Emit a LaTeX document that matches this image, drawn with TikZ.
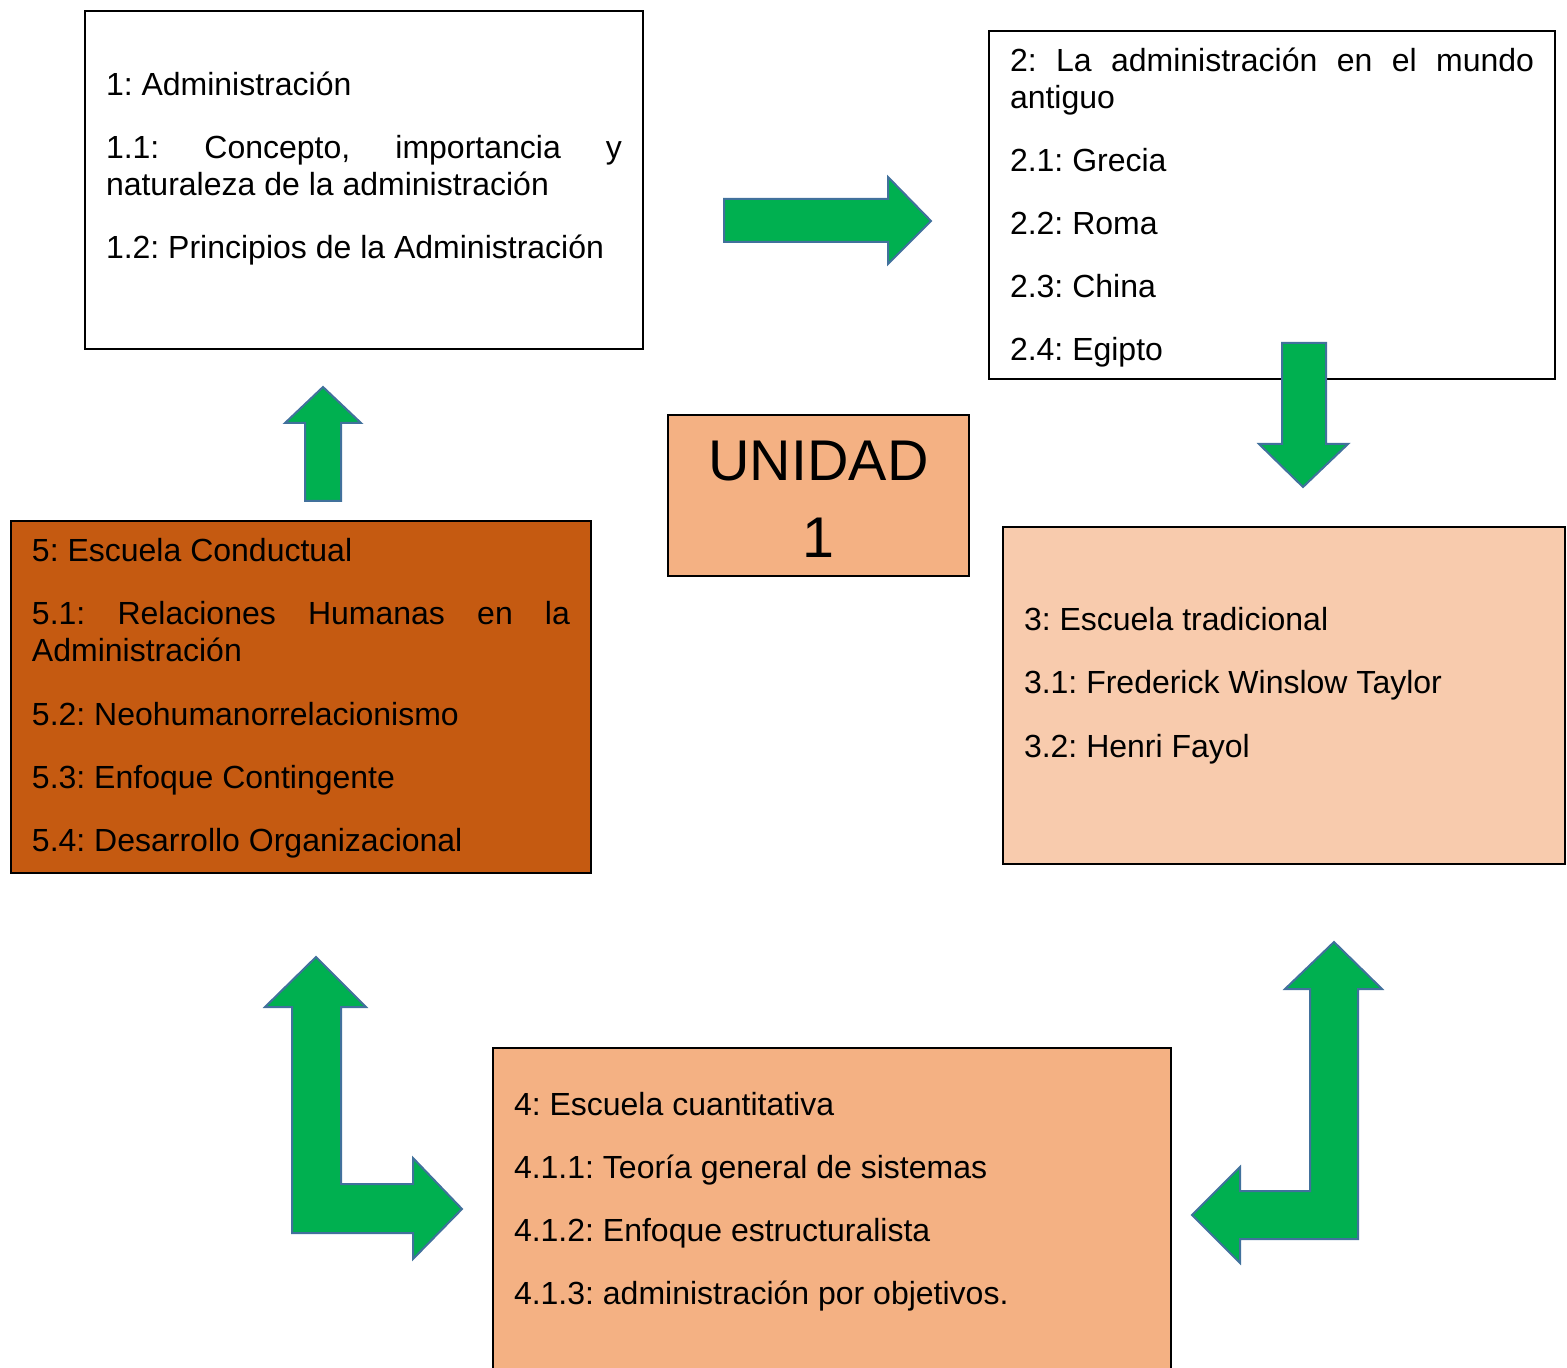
\documentclass[tikz,border=0pt]{standalone}
\usepackage{fontspec}
\setmainfont{Liberation Sans}
\definecolor{arrgreen}{HTML}{00B050}
\definecolor{arrline}{HTML}{41719C}
\definecolor{peach}{HTML}{F4B183}
\definecolor{lightpeach}{HTML}{F8CBAD}
\definecolor{rust}{HTML}{C55A11}
\hyphenpenalty=10000
\frenchspacing
\begin{document}
\begin{tikzpicture}[x=0.5pt, y=-0.5pt,
  box/.style={draw, line width=1pt, fill=white, anchor=north west, outer sep=0pt,
    inner xsep=10.5pt, inner ysep=0pt, align=justify, text width=#1,
    execute at begin node={\fontsize{16pt}{18.5pt}\selectfont\setlength{\parskip}{13pt}}},
  box/.default=258pt,
  unit/.style={box=129.5pt, align=center, fill=peach,
    execute at begin node={\fontsize{28.7pt}{38.5pt}\selectfont\setlength{\parskip}{0pt}}},
  blk/.style={fill=arrgreen, draw=arrline, line width=1pt, line join=miter}]
\useasboundingbox (0,0) rectangle (1567,1368);
% --- boxes, clockwise from top left
\node[box, text height=42.5pt, text depth=126.5pt] (adm) at (85,11) {1: Administración\par
  1.1: Concepto, importancia y\linebreak naturaleza de la administración\par
  1.2: Principios de la Administración};
\node[box=262pt, text height=20.5pt, text depth=153.5pt] (anti) at (989,31) {2: La administración en el mundo\linebreak antiguo\par
  2.1: Grecia\par
  2.2: Roma\par
  2.3: China\par
  2.4: Egipto};
\node[box=260pt, fill=lightpeach, text height=52pt, text depth=116.5pt] (trad) at (1003,527) {3: Escuela tradicional\par
  3.1: Frederick Winslow Taylor\par
  3.2: Henri Fayol};
\node[box=318pt, fill=peach, text height=33.5pt, text depth=152.5pt] (cuant) at (493,1048) {4: Escuela cuantitativa\par
  4.1.1: Teoría general de sistemas\par
  4.1.2: Enfoque estructuralista\par
  4.1.3: administración por objetivos.};
\node[box=269pt, fill=rust, text height=20.5pt, text depth=155.5pt] (cond) at (11,521) {5: Escuela Conductual\par
  5.1: Relaciones Humanas en la\linebreak Administración\par
  5.2: Neohumanorrelacionismo\par
  5.3: Enfoque Contingente\par
  5.4: Desarrollo Organizacional};
% --- centre
\node[unit, text height=33pt, text depth=47.5pt] (unidad) at (668,415) {UNIDAD\par 1};
% --- block arrows
\draw[blk] (724,199) -- (888,199) -- (888,177) -- (931,221) -- (888,264) -- (888,242) -- (724,242) -- cycle;
\draw[blk] (1282,343) -- (1326,343) -- (1326,444) -- (1348,444) -- (1303,487) -- (1259,444) -- (1282,444) -- cycle;
\draw[blk] (1334,942) -- (1382,989) -- (1358,989) -- (1358,1239) -- (1240,1239) -- (1240,1263) -- (1192,1215)
  -- (1240,1167) -- (1240,1191) -- (1310,1191) -- (1310,989) -- (1285,989) -- cycle;
\draw[blk] (316,957) -- (366,1007) -- (341,1007) -- (341,1184) -- (413,1184) -- (413,1158) -- (462,1209)
  -- (413,1259) -- (413,1233) -- (292,1233) -- (292,1007) -- (265,1007) -- cycle;
\draw[blk] (305,501) -- (305,423) -- (285,423) -- (323,387) -- (361,423) -- (341,423) -- (341,501) -- cycle;
\end{tikzpicture}
\end{document}
